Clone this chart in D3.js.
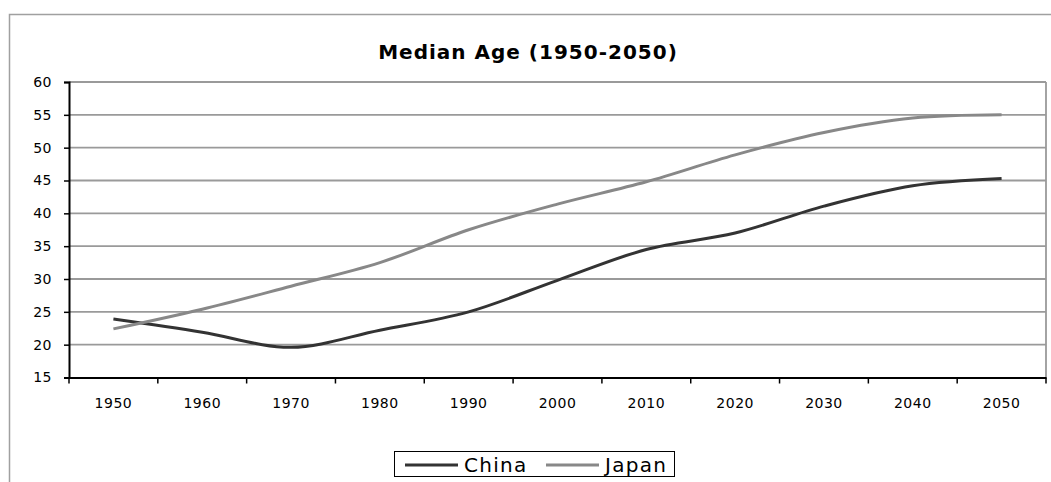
<!DOCTYPE html>
<html>
<head>
<meta charset="utf-8">
<script src="https://cdn.jsdelivr.net/npm/d3@7"></script>
<style>
  html, body { margin: 0; padding: 0; background: #fff; }
  svg { display: block; font-family: "DejaVu Sans", Verdana, sans-serif; }
</style>
</head>
<body>
<svg id="chart" width="1051" height="482"></svg>
<script>
// Median age by decade, 1950-2050
const years = ["1950", "1960", "1970", "1980", "1990", "2000", "2010", "2020", "2030", "2040", "2050"];
const china = [23.9, 21.9, 19.6, 22.2, 25.0, 29.8, 34.5, 37.0, 41.1, 44.2, 45.3];
const japan = [22.4, 25.4, 28.9, 32.5, 37.5, 41.4, 44.8, 48.9, 52.3, 54.5, 55.0];
const yTicks = [15, 20, 25, 30, 35, 40, 45, 50, 55, 60];

const seriesList = [
  { name: "China", values: china, color: "#333333" },
  { name: "Japan", values: japan, color: "#888888" }
];

const svg = d3.select("#chart");

// chart-area frame
svg.append("rect")
  .attr("x", 9.5).attr("y", 14.5)
  .attr("width", 1100).attr("height", 600)
  .attr("fill", "#fff").attr("stroke", "#a0a0a0").attr("stroke-width", 1.5);

const plot = { left: 69, right: 1046, top: 82, bottom: 377.5 };

const x = d3.scaleBand().domain(years).range([plot.left, plot.right]).paddingInner(0).paddingOuter(0);
const y = d3.scaleLinear().domain([15, 60]).range([plot.bottom, plot.top]);

// title
svg.append("text")
  .attr("x", 528).attr("y", 59)
  .attr("text-anchor", "middle")
  .attr("font-size", 20).attr("font-weight", "bold")
  .attr("letter-spacing", 1)
  .text("Median Age (1950-2050)");

// horizontal gridlines
svg.append("g")
  .selectAll("line")
  .data(yTicks.filter(t => t > 15))
  .join("line")
  .attr("x1", plot.left).attr("x2", plot.right)
  .attr("y1", d => y(d)).attr("y2", d => y(d))
  .attr("stroke", "#9a9a9a").attr("stroke-width", 1.8);

// plot-area right border
svg.append("line")
  .attr("x1", plot.right).attr("x2", plot.right)
  .attr("y1", plot.top).attr("y2", plot.bottom)
  .attr("stroke", "#9a9a9a").attr("stroke-width", 1.8);

// y axis
const yAxis = svg.append("g")
  .attr("transform", `translate(${plot.left},0)`)
  .call(d3.axisLeft(y).tickValues(yTicks).tickSize(5).tickPadding(12).tickFormat(d3.format("d")));
yAxis.select(".domain").attr("stroke", "#000").attr("stroke-width", 2);
yAxis.selectAll(".tick line").attr("stroke", "#000").attr("stroke-width", 1.5);
yAxis.selectAll(".tick text")
  .attr("font-family", "DejaVu Sans, Verdana, sans-serif")
  .attr("font-size", 14).attr("fill", "#000").attr("letter-spacing", 0.5);

// x axis: labels centered in each band, ticks on band boundaries
const xAxis = svg.append("g")
  .attr("transform", `translate(0,${plot.bottom})`)
  .call(d3.axisBottom(x).tickSize(0).tickPadding(21));
xAxis.select(".domain").attr("stroke", "#000").attr("stroke-width", 2);
xAxis.selectAll(".tick text")
  .attr("font-family", "DejaVu Sans, Verdana, sans-serif")
  .attr("font-size", 14).attr("fill", "#000").attr("letter-spacing", 0.5);
xAxis.selectAll("line.boundary")
  .data(years.map(d => x(d)).concat([plot.right]))
  .join("line")
  .attr("class", "boundary")
  .attr("x1", d => d).attr("x2", d => d)
  .attr("y1", 0).attr("y2", 6)
  .attr("stroke", "#000").attr("stroke-width", 1.5);

// smoothed lines through each decade value
const line = d3.line()
  .x((d, i) => x(years[i]) + x.bandwidth() / 2)
  .y(d => y(d))
  .curve(d3.curveCatmullRom.alpha(0.5));

svg.append("g")
  .selectAll("path")
  .data(seriesList)
  .join("path")
  .attr("d", s => line(s.values))
  .attr("fill", "none")
  .attr("stroke", s => s.color)
  .attr("stroke-width", 3)
  .attr("stroke-linejoin", "round");

// legend
const legend = svg.append("g");
legend.append("rect")
  .attr("x", 394.5).attr("y", 451.5)
  .attr("width", 280).attr("height", 25)
  .attr("fill", "#fff").attr("stroke", "#000").attr("stroke-width", 1);

const legendPos = [{ sx: 405, tx: 464 }, { sx: 546, tx: 605 }];
const items = legend.selectAll("g.item")
  .data(seriesList)
  .join("g")
  .attr("class", "item");
items.append("line")
  .attr("x1", (d, i) => legendPos[i].sx).attr("x2", (d, i) => legendPos[i].sx + 53)
  .attr("y1", 465).attr("y2", 465)
  .attr("stroke", d => d.color).attr("stroke-width", 3);
items.append("text")
  .attr("x", (d, i) => legendPos[i].tx).attr("y", 472)
  .attr("font-size", 20).attr("letter-spacing", 1.3)
  .attr("fill", "#000")
  .text(d => d.name);
</script>
</body>
</html>
